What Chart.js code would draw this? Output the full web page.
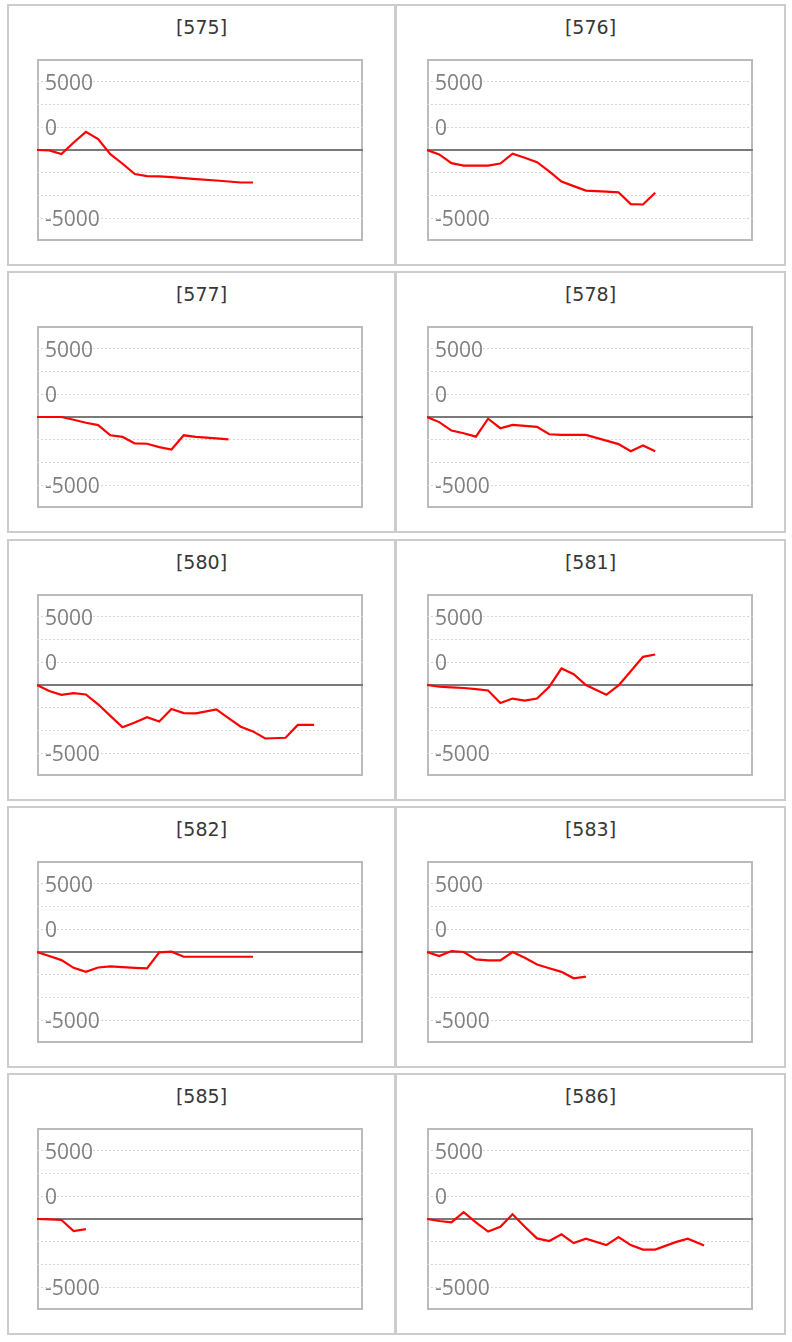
<!DOCTYPE html>
<html>
<head>
<meta charset="utf-8">
<title>Panels</title>
<script src="https://cdn.jsdelivr.net/npm/chart.js@4.4.1/dist/chart.umd.min.js"></script>
<style>
  body { margin: 0; background: #fff; width: 792px; height: 1342px; position: relative; overflow: hidden; }
  .row { position: absolute; left: 7px; width: 779px; height: 262px; border: 2px solid #cccccc; box-sizing: border-box; }
  .sep { position: absolute; width: 3px; height: 262px; background: #cccccc; }
  .title { position: absolute; height: 22px; line-height: 22px; text-align: center;
           font-family: "DejaVu Sans", sans-serif; font-size: 19px; color: #383838; }
  .plot { position: absolute; width: 326px; height: 182px; border: 2px solid #bbbbbb; box-sizing: border-box; }
  .holder { position: absolute; left: -2px; top: -2px; width: 326px; height: 182px; }
</style>
</head>
<body>
<script>
// shared x positions (days from start), same for every panel
const xDays = [0, 3, 6, 9, 12, 15, 18, 21, 24, 27, 30, 33, 36, 39, 44, 47, 50, 53, 56, 61, 64, 68];
const xMax = 80;

const panelTitles = ['[575]', '[576]', '[577]', '[578]', '[580]', '[581]', '[582]', '[583]', '[585]', '[586]'];

const s575 = [0, -40, -450, 820, 2000, 1190, -450, -1510, -2640, -2870, -2900, -2980, -3090, -3200, -3350, -3460, -3570, -3570];
const s576 = [0, -480, -1450, -1710, -1710, -1710, -1490, -410, -850, -1340, -2360, -3460, -3970, -4460, -4580, -4650, -5950, -5990, -4690];
const s577 = [0, 0, 0, -300, -630, -890, -2010, -2190, -2900, -2940, -3310, -3570, -2010, -2190, -2340, -2460];
const s578 = [0, -560, -1490, -1790, -2160, -190, -1230, -860, -970, -1080, -1900, -1970, -1970, -1970, -2600, -2980, -3760, -3120, -3760];
const s580 = [0, -670, -1080, -890, -1040, -2120, -3390, -4650, -4130, -3530, -4020, -2640, -3090, -3120, -2680, -3650, -4580, -5100, -5880, -5800, -4390, -4390];
const s581 = [0, -190, -260, -330, -450, -600, -1970, -1490, -1710, -1490, -190, 1820, 1190, 0, -1080, -40, 1520, 3090, 3350];
const s582 = [0, -440, -890, -1740, -2180, -1700, -1590, -1670, -1740, -1810, -40, 40, -520, -520, -520, -520, -520, -520];
const s583 = [0, -440, 110, 0, -810, -930, -930, 0, -630, -1370, -1780, -2180, -2890, -2700];
const s585 = [0, -40, -110, -1330, -1110];
const s586 = [0, -220, -370, 750, -370, -1380, -860, 520, -860, -2130, -2420, -1680, -2650, -2160, -2870, -1980, -2870, -3360, -3360, -2540, -2160, -2910];

const panelSeries = [s575, s576, s577, s578, s580, s581, s582, s583, s585, s586];

// y axis: gridlines every 2500, labels shown on three of them
const yMin = -10000, yMax = 10000, yStep = 2500;
const yTickValues = [7500, 2500, -7500];
const yTickLabels = ['5000', '0', '-5000'];

function addDiv(cls, left, top, width) {
  const d = document.createElement('div');
  d.className = cls;
  d.style.left = left + 'px';
  d.style.top = top + 'px';
  if (width) d.style.width = width + 'px';
  document.body.appendChild(d);
  return d;
}

function makeChart(canvas, values) {
  const points = values.map((v, i) => ({ x: xDays[i], y: v }));
  new Chart(canvas, {
    type: 'line',
    data: {
      datasets: [{
        data: points,
        borderColor: '#ff0000',
        borderWidth: 2.2,
        pointRadius: 0,
        tension: 0,
        fill: false
      }]
    },
    options: {
      responsive: true,
      maintainAspectRatio: false,
      animation: false,
      layout: { padding: 0, autoPadding: false },
      plugins: { legend: { display: false }, tooltip: { enabled: false } },
      scales: {
        x: {
          type: 'linear', min: 0, max: xMax,
          position: { y: 0 },
          ticks: { display: false },
          grid: { display: false, drawTicks: false },
          border: { display: true, color: '#7a7a7a', width: 2 }
        },
        y: {
          min: yMin, max: yMax,
          // labels sit inside the plot, so the axis takes no room
          afterFit: s => { s.width = 0; s.paddingTop = 0; s.paddingBottom = 0; },
          ticks: {
            stepSize: yStep, autoSkip: false, mirror: true, padding: 8, labelOffset: 2,
            color: '#808080',
            font: { family: 'Open Sans', size: 21 },
            callback: v => {
              const i = yTickValues.indexOf(v);
              return i >= 0 ? yTickLabels[i] : '';
            }
          },
          grid: {
            drawTicks: false,
            color: ctx => Math.abs(ctx.tick.value) === yMax ? 'rgba(0,0,0,0)' : '#d6d6d6'
          },
          border: { display: false, dash: [2, 2] }
        }
      }
    }
  });
}

for (let r = 0; r < 5; r++) {
  const top = 4 + r * 267.25;
  addDiv('row', 7, top);
  addDiv('sep', 394, top);
  for (let c = 0; c < 2; c++) {
    const k = r * 2 + c;
    const cellLeft = c ? 397 : 9;
    const cellRight = c ? 784 : 394;
    const t = addDiv('title', cellLeft, top + 12, cellRight - cellLeft);
    t.textContent = panelTitles[k];
    const box = addDiv('plot', c ? 427 : 37, top + 55);
    const holder = document.createElement('div');
    holder.className = 'holder';
    box.appendChild(holder);
    const canvas = document.createElement('canvas');
    holder.appendChild(canvas);
    makeChart(canvas, panelSeries[k]);
  }
}
</script>
</body>
</html>
